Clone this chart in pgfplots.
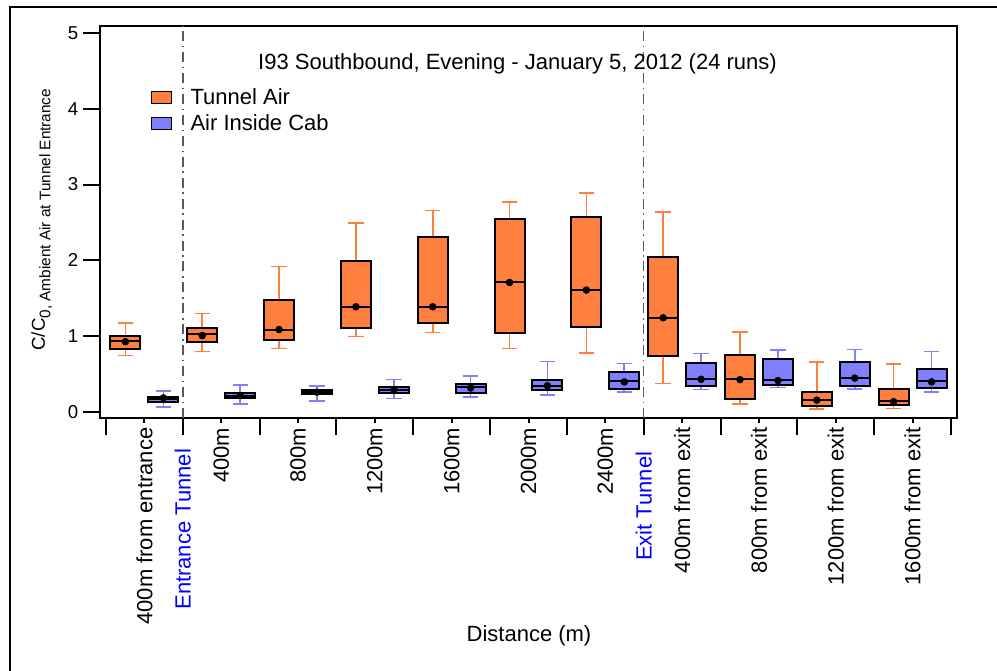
\documentclass[border=0pt]{standalone}
\usepackage{fontspec}
\setmainfont{Liberation Sans}
\usepackage{pgfplots}
\pgfplotsset{compat=1.18}
\usepgfplotslibrary{statistics}
\definecolor{tunnel}{RGB}{255,127,63}
\definecolor{cab}{RGB}{128,128,255}
\definecolor{dashgray}{RGB}{90,90,90}
\newcommand{\fbig}{\fontsize{16.5}{19}\selectfont}
\newcommand{\fmid}{\fontsize{14}{16}\selectfont}
\begin{document}
\begin{tikzpicture}[x=0.75pt,y=0.75pt]
\useasboundingbox (0,0) rectangle (997,671);
\draw[line width=1.5pt] (10,0) -- (10,664) -- (997,664);
\begin{axis}[
  at={(75pt,189.75pt)}, anchor=south west,
  scale only axis, width=642.75pt, height=294pt,
  xmin=-0.578, xmax=10.578, ymin=-0.075, ymax=5.088,
  axis line style={line width=1.5pt},
  every tick/.style={line width=1.5pt, black},
  tick align=outside, tick pos=left,
  major tick length=12.75pt,
  xtick={-0.5,0.5,...,10.5},
  xticklabels={,\textcolor{blue}{Entrance Tunnel}\hspace*{7pt},,,,,,\textcolor{blue}{Exit Tunnel}\hspace*{9pt},,,,},
  x tick label style={rotate=90, anchor=east, font=\fbig},
  extra x ticks={0,1,...,10},
  extra x tick labels={400m from entrance,400m,800m,1200m,1600m,2000m,2400m,400m from exit,800m from exit,1200m from exit,1600m from exit},
  extra x tick style={major tick length=3.75pt},
  ytick={0,1,...,5},
  y tick label style={font=\fmid},
  /pgf/number format/assume math mode=true,
  xlabel={Distance (m)},
  xlabel style={at={(axis description cs:0.5006,-0.571)}, anchor=base, font=\fbig},
  ylabel={C/C\raisebox{-4pt}{\fontsize{11.5}{13}\selectfont 0, Ambient Air at Tunnel Entrance}},
  ylabel style={at={(axis description cs:-0.0642,0.506)}, anchor=base, font=\fmid},
  legend style={draw=none, fill=none, at={(axis description cs:0.054,0.855)}, anchor=north west, font=\fbig, row sep=2pt},
  legend cell align=left,
  legend image code/.code={\draw[#1, line width=1pt] (0pt,-4.5pt) rectangle (15pt,4.5pt);},
  tb/.style={draw=black, fill=tunnel, line width=1.5pt, forget plot,
    boxplot/every whisker/.style={draw=tunnel, line width=1.2pt},
    boxplot/every median/.style={draw=black, line width=1.5pt}},
  cb/.style={draw=black, fill=cab, line width=1.5pt, forget plot,
    boxplot/every whisker/.style={draw=cab, line width=1.2pt},
    boxplot/every median/.style={draw=black, line width=1.5pt}},
  boxplot/draw direction=y,
  boxplot/box extend=0.39, boxplot/whisker extend=0.2,
]
\addlegendimage{draw=black, fill=tunnel}
\addlegendentry{\hspace*{12pt}Tunnel Air}
\addlegendimage{draw=black, fill=cab}
\addlegendentry{\hspace*{12pt}Air Inside Cab}

\draw[dashgray, line width=1.1pt, dash pattern=on 7.5pt off 3.5pt on 1.2pt off 3.5pt] (axis cs:0.5,-0.075) -- (axis cs:0.5,5.088);
\draw[dashgray, line width=1.1pt, dash pattern=on 7.5pt off 3.5pt on 1.2pt off 3.5pt] (axis cs:6.5,-0.075) -- (axis cs:6.5,5.088);

% Tunnel Air boxes
\addplot[tb, boxplot prepared={draw position=-0.247, lower whisker=0.75, lower quartile=0.83, median=0.94, upper quartile=1.005, upper whisker=1.18}] coordinates {};
\addplot[tb, boxplot prepared={draw position=0.753, lower whisker=0.80, lower quartile=0.93, median=1.03, upper quartile=1.115, upper whisker=1.30}] coordinates {};
\addplot[tb, boxplot prepared={draw position=1.753, lower whisker=0.84, lower quartile=0.95, median=1.09, upper quartile=1.48, upper whisker=1.92}] coordinates {};
\addplot[tb, boxplot prepared={draw position=2.753, lower whisker=1.00, lower quartile=1.11, median=1.39, upper quartile=1.99, upper whisker=2.49}] coordinates {};
\addplot[tb, boxplot prepared={draw position=3.753, lower whisker=1.05, lower quartile=1.17, median=1.39, upper quartile=2.31, upper whisker=2.66}] coordinates {};
\addplot[tb, boxplot prepared={draw position=4.753, lower whisker=0.84, lower quartile=1.04, median=1.71, upper quartile=2.55, upper whisker=2.77}] coordinates {};
\addplot[tb, boxplot prepared={draw position=5.753, lower whisker=0.78, lower quartile=1.13, median=1.615, upper quartile=2.57, upper whisker=2.885}] coordinates {};
\addplot[tb, boxplot prepared={draw position=6.753, lower whisker=0.377, lower quartile=0.745, median=1.245, upper quartile=2.04, upper whisker=2.635}] coordinates {};
\addplot[tb, boxplot prepared={draw position=7.753, lower whisker=0.11, lower quartile=0.175, median=0.435, upper quartile=0.76, upper whisker=1.058}] coordinates {};
\addplot[tb, boxplot prepared={draw position=8.753, lower whisker=0.043, lower quartile=0.087, median=0.166, upper quartile=0.27, upper whisker=0.663}] coordinates {};
\addplot[tb, boxplot prepared={draw position=9.753, lower whisker=0.048, lower quartile=0.096, median=0.153, upper quartile=0.31, upper whisker=0.636}] coordinates {};

% Air inside cab boxes
\addplot[cb, boxplot prepared={draw position=0.247, lower whisker=0.066, lower quartile=0.14, median=0.18, upper quartile=0.205, upper whisker=0.28}] coordinates {};
\addplot[cb, boxplot prepared={draw position=1.247, lower whisker=0.11, lower quartile=0.19, median=0.22, upper quartile=0.25, upper whisker=0.36}] coordinates {};
\addplot[cb, boxplot prepared={draw position=2.247, lower whisker=0.15, lower quartile=0.24, median=0.27, upper quartile=0.29, upper whisker=0.35}] coordinates {};
\addplot[cb, boxplot prepared={draw position=3.247, lower whisker=0.18, lower quartile=0.26, median=0.30, upper quartile=0.33, upper whisker=0.43}] coordinates {};
\addplot[cb, boxplot prepared={draw position=4.247, lower whisker=0.20, lower quartile=0.26, median=0.33, upper quartile=0.37, upper whisker=0.48}] coordinates {};
\addplot[cb, boxplot prepared={draw position=5.247, lower whisker=0.23, lower quartile=0.29, median=0.35, upper quartile=0.43, upper whisker=0.67}] coordinates {};
\addplot[cb, boxplot prepared={draw position=6.247, lower whisker=0.27, lower quartile=0.31, median=0.41, upper quartile=0.535, upper whisker=0.645}] coordinates {};
\addplot[cb, boxplot prepared={draw position=7.247, lower whisker=0.30, lower quartile=0.35, median=0.44, upper quartile=0.645, upper whisker=0.777}] coordinates {};
\addplot[cb, boxplot prepared={draw position=8.247, lower whisker=0.325, lower quartile=0.355, median=0.425, upper quartile=0.70, upper whisker=0.82}] coordinates {};
\addplot[cb, boxplot prepared={draw position=9.247, lower whisker=0.31, lower quartile=0.35, median=0.456, upper quartile=0.667, upper whisker=0.825}] coordinates {};
\addplot[cb, boxplot prepared={draw position=10.247, lower whisker=0.27, lower quartile=0.325, median=0.41, upper quartile=0.567, upper whisker=0.80}] coordinates {};

% means
\addplot[only marks, mark=*, mark size=2.6pt, black, forget plot] coordinates {
(-0.247,0.93) (0.753,1.01) (1.753,1.09) (2.753,1.39) (3.753,1.39) (4.753,1.71)
(5.753,1.61) (6.753,1.245) (7.753,0.43) (8.753,0.16) (9.753,0.14)};
\addplot[only marks, mark=*, mark size=2.6pt, black, forget plot] coordinates {
(0.247,0.19) (1.247,0.22) (2.247,0.265) (3.247,0.30) (4.247,0.32) (5.247,0.35)
(6.247,0.40) (7.247,0.435) (8.247,0.418) (9.247,0.45) (10.247,0.40)};

\node[anchor=base, font=\fbig] at (axis description cs:0.4872,0.889) {I93 Southbound, Evening - January 5, 2012 (24 runs)};
\end{axis}
\end{tikzpicture}
\end{document}
